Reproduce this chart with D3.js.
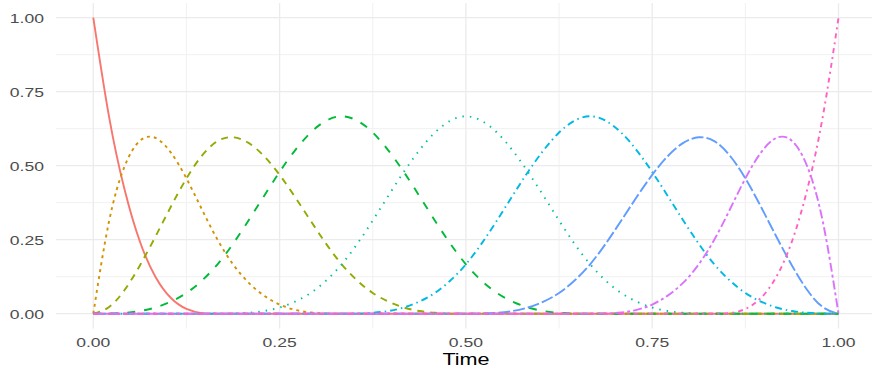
<!DOCTYPE html>
<html>
<head>
<meta charset="utf-8">
<script src="https://cdn.jsdelivr.net/npm/d3@7"></script>
<style>
    body { margin: 0; background: #ffffff; }
    text { font-family: "Liberation Sans", Arial, sans-serif; }
</style>
</head>
<body>
<div id="chart"></div>
<script>
// sample times along the x axis
var time = [0, 0.0208, 0.0417, 0.0625, 0.0833, 0.1042, 0.125, 0.1458, 0.1667, 0.1875, 0.2083, 0.2292,
    0.25, 0.2708, 0.2917, 0.3125, 0.3333, 0.3542, 0.375, 0.3958, 0.4167, 0.4375, 0.4583, 0.4792,
    0.5, 0.5208, 0.5417, 0.5625, 0.5833, 0.6042, 0.625, 0.6458, 0.6667, 0.6875, 0.7083, 0.7292,
    0.75, 0.7708, 0.7917, 0.8125, 0.8333, 0.8542, 0.875, 0.8958, 0.9167, 0.9375, 0.9583, 0.9792, 1];

// basis curves
var b1 = [1, 0.670, 0.422, 0.244, 0.125, 0.053, 0.016, 0.002,
    0, 0, 0, 0, 0, 0, 0, 0,
    0, 0, 0, 0, 0, 0, 0, 0,
    0, 0, 0, 0, 0, 0, 0, 0,
    0, 0, 0, 0, 0, 0, 0, 0,
    0, 0, 0, 0, 0, 0, 0, 0, 0];
var b2 = [0, 0.308, 0.496, 0.584, 0.594, 0.544, 0.457, 0.352,
    0.250, 0.167, 0.105, 0.061, 0.031, 0.013, 0.004, 0.0005,
    0, 0, 0, 0, 0, 0, 0, 0,
    0, 0, 0, 0, 0, 0, 0, 0,
    0, 0, 0, 0, 0, 0, 0, 0,
    0, 0, 0, 0, 0, 0, 0, 0, 0];
var b3 = [0, 0.022, 0.079, 0.163, 0.260, 0.362, 0.457, 0.534,
    0.583, 0.596, 0.577, 0.532, 0.469, 0.394, 0.314, 0.236,
    0.167, 0.112, 0.070, 0.041, 0.021, 0.009, 0.003, 0.0003,
    0, 0, 0, 0, 0, 0, 0, 0,
    0, 0, 0, 0, 0, 0, 0, 0,
    0, 0, 0, 0, 0, 0, 0, 0, 0];
var b4 = [0, 0.0003, 0.003, 0.009, 0.021, 0.041, 0.070, 0.112,
    0.167, 0.236, 0.315, 0.398, 0.479, 0.552, 0.612, 0.652,
    0.667, 0.652, 0.612, 0.552, 0.479, 0.398, 0.315, 0.236,
    0.167, 0.112, 0.070, 0.041, 0.021, 0.009, 0.003, 0.0003,
    0, 0, 0, 0, 0, 0, 0, 0,
    0, 0, 0, 0, 0, 0, 0, 0, 0];
var b5 = [0, 0, 0, 0, 0, 0, 0, 0,
    0, 0.0003, 0.003, 0.009, 0.021, 0.041, 0.070, 0.112,
    0.167, 0.236, 0.315, 0.398, 0.479, 0.552, 0.612, 0.652,
    0.667, 0.652, 0.612, 0.552, 0.479, 0.398, 0.315, 0.236,
    0.167, 0.112, 0.070, 0.041, 0.021, 0.009, 0.003, 0.0003,
    0, 0, 0, 0, 0, 0, 0, 0, 0];
var b6 = [0, 0, 0, 0, 0, 0, 0, 0,
    0, 0, 0, 0, 0, 0, 0, 0,
    0, 0.0003, 0.003, 0.009, 0.021, 0.041, 0.070, 0.112,
    0.167, 0.236, 0.315, 0.398, 0.479, 0.552, 0.612, 0.652,
    0.667, 0.652, 0.612, 0.552, 0.479, 0.398, 0.315, 0.236,
    0.167, 0.112, 0.070, 0.041, 0.021, 0.009, 0.003, 0.0003, 0];
var b7 = [0, 0, 0, 0, 0, 0, 0, 0,
    0, 0, 0, 0, 0, 0, 0, 0,
    0, 0, 0, 0, 0, 0, 0, 0,
    0, 0.0003, 0.003, 0.009, 0.021, 0.041, 0.070, 0.112,
    0.167, 0.236, 0.314, 0.394, 0.469, 0.532, 0.577, 0.596,
    0.583, 0.534, 0.457, 0.362, 0.260, 0.163, 0.079, 0.022, 0];
var b8 = [0, 0, 0, 0, 0, 0, 0, 0,
    0, 0, 0, 0, 0, 0, 0, 0,
    0, 0, 0, 0, 0, 0, 0, 0,
    0, 0, 0, 0, 0, 0, 0, 0,
    0, 0.0005, 0.004, 0.013, 0.031, 0.061, 0.105, 0.167,
    0.250, 0.352, 0.457, 0.544, 0.594, 0.584, 0.496, 0.308, 0];
var b9 = [0, 0, 0, 0, 0, 0, 0, 0,
    0, 0, 0, 0, 0, 0, 0, 0,
    0, 0, 0, 0, 0, 0, 0, 0,
    0, 0, 0, 0, 0, 0, 0, 0,
    0, 0, 0, 0, 0, 0, 0, 0,
    0, 0.002, 0.016, 0.053, 0.125, 0.244, 0.422, 0.670, 1];

var seriesList = [b1, b2, b3, b4, b5, b6, b7, b8, b9];
var colors = ["#F8766D", "#D39200", "#93AA00", "#00BA38", "#00C19F", "#00B9E3", "#619CFF", "#DB72FB", "#FF61C3"];
var dashes = ["none", "3,4", "7,6", "8,9", "1.5,6", "7,4,1.5,4", "12,3", "9,3,3,3", "5,4,2,4"];

var xTicks = [0, 0.25, 0.5, 0.75, 1];
var yTicks = [0, 0.25, 0.5, 0.75, 1];
var xMinor = [0.125, 0.375, 0.625, 0.875];
var yMinor = [0.125, 0.375, 0.625, 0.875];

var width = 872;
var height = 371;
var panel = { left: 56, right: 872, top: 3, bottom: 328.5 };
var stretch = 1.35; // picture is wider than tall

var x = d3.scaleLinear().domain([0, 1]).range([93.3, 838.5]);
var y = d3.scaleLinear().domain([0, 1]).range([313.7, 17.7]);

var svg = d3.select("#chart").append("svg")
    .attr("width", width)
    .attr("height", height);

// grid lines
var grid = svg.append("g");
grid.selectAll(".vminor").data(xMinor).enter().append("line")
    .attr("x1", function (d) { return x(d); })
    .attr("x2", function (d) { return x(d); })
    .attr("y1", panel.top).attr("y2", panel.bottom)
    .attr("stroke", "#efefef").attr("stroke-width", 0.9);
grid.selectAll(".hminor").data(yMinor).enter().append("line")
    .attr("y1", function (d) { return y(d); })
    .attr("y2", function (d) { return y(d); })
    .attr("x1", panel.left).attr("x2", panel.right)
    .attr("stroke", "#efefef").attr("stroke-width", 0.9);
grid.selectAll(".vmajor").data(xTicks).enter().append("line")
    .attr("x1", function (d) { return x(d); })
    .attr("x2", function (d) { return x(d); })
    .attr("y1", panel.top).attr("y2", panel.bottom)
    .attr("stroke", "#ebebeb").attr("stroke-width", 1.3);
grid.selectAll(".hmajor").data(yTicks).enter().append("line")
    .attr("y1", function (d) { return y(d); })
    .attr("y2", function (d) { return y(d); })
    .attr("x1", panel.left).attr("x2", panel.right)
    .attr("stroke", "#ebebeb").attr("stroke-width", 1.3);

// curves
var line = d3.line()
    .x(function (d, i) { return x(time[i]); })
    .y(function (d) { return y(d); })
    .curve(d3.curveNatural);

svg.append("g").selectAll("path")
    .data(seriesList)
    .enter().append("path")
    .attr("d", line)
    .attr("fill", "none")
    .attr("stroke", function (d, i) { return colors[i]; })
    .attr("stroke-width", 1.9)
    .attr("stroke-dasharray", function (d, i) { return dashes[i]; });

// stretched text helper
function label(tx, ty, txt, anchor, size, color) {
    svg.append("text")
        .attr("transform", "translate(" + tx + "," + ty + ") scale(" + stretch + ",1)")
        .attr("text-anchor", anchor)
        .attr("font-size", size)
        .attr("fill", color)
        .text(txt);
}

yTicks.forEach(function (d) {
    label(44, y(d) + 5, d3.format(".2f")(d), "end", 13, "#4d4d4d");
});
xTicks.forEach(function (d) {
    label(x(d), 347, d3.format(".2f")(d), "middle", 13, "#4d4d4d");
});
label(466, 365, "Time", "middle", 16, "#000000");
</script>
</body>
</html>
